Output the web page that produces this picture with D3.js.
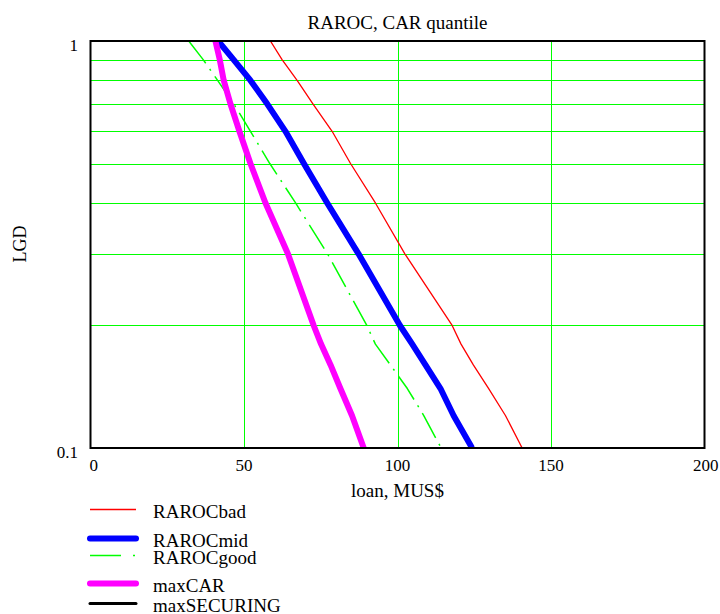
<!DOCTYPE html>
<html>
<head>
<meta charset="utf-8">
<script src="https://cdn.jsdelivr.net/npm/d3@7"></script>
<style>
  body { margin: 0; background: #fff; }
</style>
</head>
<body>
<svg width="720" height="614" font-family="'Liberation Serif', 'Times New Roman', serif"></svg>
<script>
var svg = d3.select('svg');

// LGD levels the curves were read at
var lgd = [1, 0.9, 0.8, 0.7, 0.6, 0.5, 0.4, 0.3, 0.2, 0.18, 0.16, 0.14, 0.12, 0.1];

// loan, MUS$ for each LGD level
var rarocBad  = [58.6, 62.4, 67.3, 72.5, 78.7, 84.7, 92.8, 102.4, 117.8, 120.7, 124.7, 129.7, 135.2, 140.6];
var rarocMid  = [41.6, 46.6, 52.1, 57.6, 63.5, 69.5, 77.1, 87.3, 100.8, 104.8, 109.1, 114.0, 118.3, 124.3];
var rarocGood = [32.0, 36.7, 41.4, 46.7, 52.1, 58.4, 66.8, 77.2, 90.0, 92.8, 97.7, 103.2, 108.6, 114.2];
var maxCar    = [40.7, 42.1, 43.4, 45.6, 48.5, 52.1, 57.0, 64.3, 72.7, 75.1, 78.2, 81.4, 85.2, 89.0];
var maxSecuring = []; // nothing visible inside the plot

var xTicks = [0, 50, 100, 150, 200];
var xGrid = [50, 100, 150];
var yTicks = [0.1, 1];
var yGrid = [0.2, 0.3, 0.4, 0.5, 0.6, 0.7, 0.8, 0.9];

var plot_left = 90.5;
var plot_right = 704.5;
var plot_top = 41;
var plot_bottom = 448;

var x = d3.scaleLinear().domain([0, 200]).range([plot_left, plot_right]);
var y = d3.scaleLog().domain([0.1, 1]).range([plot_bottom, plot_top]);

var series = [
  { name: 'RAROCbad', values: rarocBad, color: '#ff0000', width: 1.3, dash: null, cap: 'butt', legendY: 518 },
  { name: 'RAROCmid', values: rarocMid, color: '#0000ff', width: 6, dash: null, cap: 'round', legendY: 547 },
  { name: 'RAROCgood', values: rarocGood, color: '#00ff00', width: 1.5, dash: '28,7,2,7', cap: 'butt', legendY: 564 },
  { name: 'maxCAR', values: maxCar, color: '#ff00ff', width: 6, dash: null, cap: 'round', legendY: 592 },
  { name: 'maxSECURING', values: maxSecuring, color: '#000000', width: 3, dash: null, cap: 'round', legendY: 612 }
];

svg.append('defs').append('clipPath')
  .attr('id', 'plot-clip')
  .append('rect')
  .attr('x', plot_left)
  .attr('y', plot_top)
  .attr('width', plot_right - plot_left)
  .attr('height', plot_bottom - plot_top);

//grid lines
svg.selectAll('.hgrid')
  .data(yGrid)
  .enter()
  .append('line')
  .attr('class', 'hgrid')
  .attr('x1', plot_left)
  .attr('x2', plot_right)
  .attr('y1', function(d) { return Math.round(y(d)) + 0.5; })
  .attr('y2', function(d) { return Math.round(y(d)) + 0.5; })
  .attr('stroke', '#00ff00')
  .attr('stroke-width', 1.2);

svg.selectAll('.vgrid')
  .data(xGrid)
  .enter()
  .append('line')
  .attr('class', 'vgrid')
  .attr('x1', function(d) { return Math.round(x(d)) + 0.5; })
  .attr('x2', function(d) { return Math.round(x(d)) + 0.5; })
  .attr('y1', plot_top)
  .attr('y2', plot_bottom)
  .attr('stroke', '#00ff00')
  .attr('stroke-width', 1);

//curves
var line = d3.line()
  .x(function(d) { return x(d.loan); })
  .y(function(d) { return y(d.lgd); });

var curves = svg.append('g').attr('clip-path', 'url(#plot-clip)');

curves.selectAll('.curve')
  .data(series.filter(function(s) { return s.values.length > 0; }))
  .enter()
  .append('path')
  .attr('class', 'curve')
  .attr('d', function(s) {
    return line(s.values.map(function(v, i) { return { loan: v, lgd: lgd[i] }; }));
  })
  .attr('fill', 'none')
  .attr('stroke', function(s) { return s.color; })
  .attr('stroke-width', function(s) { return s.width; })
  .attr('stroke-dasharray', function(s) { return s.dash; })
  .attr('stroke-linejoin', 'round');

//frame
svg.append('rect')
  .attr('x', plot_left)
  .attr('y', plot_top)
  .attr('width', plot_right - plot_left)
  .attr('height', plot_bottom - plot_top)
  .attr('fill', 'none')
  .attr('stroke', '#000')
  .attr('stroke-width', 2);

//tick labels
svg.selectAll('.xtick')
  .data(xTicks)
  .enter()
  .append('text')
  .attr('class', 'xtick')
  .attr('x', function(d) { return x(d); })
  .attr('y', 471)
  .attr('text-anchor', function(d) { return d === 0 ? 'start' : (d === 200 ? 'end' : 'middle'); })
  .attr('dx', function(d) { return d === 0 ? -1 : (d === 200 ? 14 : 0); })
  .attr('font-size', '17px')
  .text(function(d) { return d; });

svg.selectAll('.ytick')
  .data(yTicks)
  .enter()
  .append('text')
  .attr('class', 'ytick')
  .attr('x', 78)
  .attr('y', function(d) { return y(d) + 10; })
  .attr('text-anchor', 'end')
  .attr('font-size', '17px')
  .text(function(d) { return d; });

//titles
svg.append('text')
  .attr('x', (plot_left + plot_right) / 2)
  .attr('y', 29)
  .attr('text-anchor', 'middle')
  .attr('font-size', '19px')
  .text('RAROC, CAR quantile');

svg.append('text')
  .attr('x', (plot_left + plot_right) / 2)
  .attr('y', 497)
  .attr('text-anchor', 'middle')
  .attr('font-size', '19px')
  .text('loan, MUS$');

svg.append('text')
  .attr('transform', 'translate(26,244) rotate(-90)')
  .attr('text-anchor', 'middle')
  .attr('font-size', '18px')
  .text('LGD');

//legend
var legend = svg.selectAll('.legend')
  .data(series)
  .enter()
  .append('g')
  .attr('class', 'legend');

legend.append('line')
  .attr('x1', 90)
  .attr('x2', 136)
  .attr('y1', function(s) { return s.legendY - 8.5; })
  .attr('y2', function(s) { return s.legendY - 8.5; })
  .attr('stroke', function(s) { return s.color; })
  .attr('stroke-width', function(s) { return s.width; })
  .attr('stroke-linecap', function(s) { return s.cap; })
  .attr('stroke-dasharray', function(s) { return s.name === 'RAROCgood' ? '31,12,2,12' : null; });

legend.append('text')
  .attr('x', 153)
  .attr('y', function(s) { return s.legendY; })
  .attr('font-size', '19px')
  .text(function(s) { return s.name; });
</script>
</body>
</html>
